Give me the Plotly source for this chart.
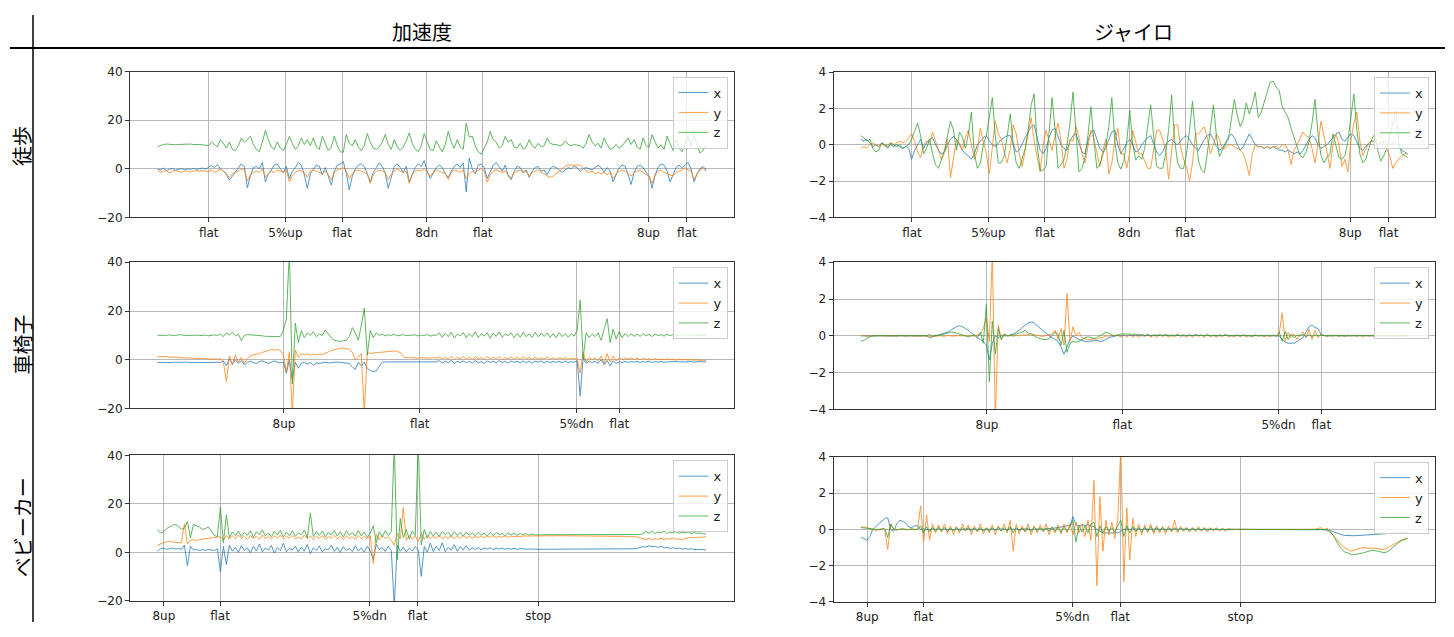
import plotly.graph_objects as go

W, H = 1454, 637
OFF = 8                              # browser body margin around the figure div
FW, FH = W - 2 * OFF, H - 2 * OFF    # page (figure + margins) fits the window exactly


def px(x):
    return (x - OFF) / FW


def py(y):
    return 1 - (y - OFF) / FH


# ---------------- data (sample index = position in list) ----------------
row1_tick_pos = [17.1, 42.7, 61.6, 89.8, 108.5, 163.8, 176.6]
row1_tick_lab = ["flat", "5%up", "flat", "8dn", "flat", "8up", "flat"]
row2_tick_pos = [42.2, 87.5, 139.8, 154.1]
row2_tick_lab = ["8up", "flat", "5%dn", "flat"]
row3_tick_pos = [2.15, 20.9, 70.8, 86.8, 127.0]
row3_tick_lab = ["8up", "flat", "5%dn", "flat", "stop"]

# 徒歩 / 加速度
acc_walk_x = [
    0.0, -0.5, 0.3, -0.8, -0.2, 0.2, -0.6, -0.3, 0.1, -0.4,
    0.0, -0.3, 0.2, -0.2, 0.0, 0.3, -0.1, 0.5, 1.5, 0.5,
    1.8, 0.0, -1.0, -2.0, -4.7, -3.0, -1.0, 0.5, 2.0, 1.0,
    -7.8, -3.0, 0.5, 1.0, 0.0, 2.6, -5.4, -2.0, -0.5, 1.5,
    2.0, 0.0, -1.5, 1.0, -4.0, -1.0, 0.5, 2.6, 1.5, -2.5,
    -8.1, -2.0, 0.0, 1.5, 1.0, -2.5, 0.5, -3.5, -6.7, -1.0,
    1.5, 2.0, 3.0, -2.0, -8.7, -3.0, 0.0, 1.5, 2.0, 1.0,
    -2.5, -5.4, -1.5, 0.5, 2.5, 1.0, -2.0, -8.1, -3.0, 1.0,
    2.0, 0.5, -1.5, 1.0, -5.4, -2.0, 0.5, 2.0, 1.0, 3.4,
    -1.0, -4.0, -1.5, 0.5, 1.5, 0.5, -2.0, -3.5, -1.0, 1.0,
    2.0, 0.5, 2.5, -9.5, 4.5, 0.0, -2.0, 1.5, 2.0, 0.5,
    -4.0, -1.5, 1.5, 2.6, 0.5, -1.0, 1.5, -3.0, -4.5, -1.0,
    1.0, 0.5, -1.5, -0.5, -3.5, -1.0, 0.5, 1.0, -1.0, -0.5,
    -2.5, 0.0, 1.0, 0.5, -0.5, -1.5, -0.5, 0.5, 0.0, 1.0,
    0.5, -1.0, 0.0, 0.5, 0.0, -0.5, 0.5, 1.5, 0.5, -1.5,
    0.5, -1.0, -5.4, -2.0, 0.5, 1.5, 1.0, -2.5, -6.5, -1.5,
    1.0, 1.5, 0.5, -1.5, -3.0, -8.0, -2.5, 0.5, 2.0, 1.5,
    -1.0, -5.4, -2.0, 0.5, 1.5, 0.5, 1.5, 2.6, 0.0, -5.4,
    -2.0, 0.0, 1.0, -0.5,
]
acc_walk_y = [
    -0.5, -1.5, -1.0, -0.8, -1.8, -1.0, -0.7, -1.2, -1.5, -1.0,
    -0.8, -1.3, -1.0, -0.7, -1.0, -0.8, -1.0, -1.2, -0.5, -1.5,
    -1.0, 0.0, -1.0, -2.5, -3.5, -2.0, -1.5, -1.0, 0.0, -0.5,
    -5.0, -2.5, -1.5, -1.0, -1.5, 0.0, -3.5, -2.0, -1.0, -1.5,
    -0.5, -1.0, -1.5, -0.5, -5.4, -2.5, -1.5, -0.5, -1.0, -1.5,
    -3.5, -1.0, -0.5, -1.0, -1.5, -2.0, -1.0, -2.5, -4.5, -1.5,
    -0.5, 0.0, 0.5, -1.0, -4.0, -2.0, -1.0, -0.5, -1.0, -1.5,
    -2.0, -6.0, -2.5, -1.0, -0.5, -1.0, -1.5, -4.5, -2.0, -1.0,
    0.0, -1.0, -1.5, -1.0, -6.0, -2.5, -1.0, -0.5, -1.0, 0.0,
    -1.5, -3.0, -1.5, -0.5, -1.0, -1.5, -2.0, -4.5, -1.5, -0.5,
    -1.0, -1.5, -0.5, -4.0, -2.0, -1.0, -1.5, -0.5, 0.0, -1.0,
    -5.5, -2.5, -1.0, -0.5, -1.0, -1.5, -1.0, -2.5, -4.0, -1.5,
    -1.0, -0.5, -1.5, -1.0, -3.0, -1.5, -1.0, -0.5, -1.5, -2.0,
    -3.0, -3.5, -3.0, -2.0, -1.0, 0.0, 1.0, 1.5, 1.5, 1.8,
    1.5, 1.5, 0.5, -1.0, -1.5, -1.0, -2.0, -1.5, -2.0, -1.5,
    -2.5, -1.5, -4.0, -2.0, -1.0, -0.5, -1.0, -2.0, -3.0, -1.5,
    -1.0, -0.5, -1.5, -2.5, -3.0, -6.0, -2.5, -1.0, -0.5, -1.5,
    -2.0, -2.5, -3.0, -1.5, -1.0, -0.5, 0.5, -0.5, -1.0, -4.5,
    -2.0, -0.5, 0.5, -1.0,
]
acc_walk_z = [
    9.1, 9.6, 10.0, 10.2, 10.0, 10.1, 9.9, 10.0, 10.1, 9.9,
    10.0, 10.2, 10.0, 10.1, 10.0, 9.9, 9.8, 9.5, 11.0, 10.0,
    9.0, 12.0, 10.5, 8.5, 11.1, 8.0, 7.5, 9.5, 12.7, 11.0,
    12.0, 13.4, 10.0, 8.0, 7.0, 11.0, 15.8, 12.0, 9.0, 8.0,
    11.1, 8.5, 7.5, 10.0, 13.3, 10.5, 8.0, 9.5, 12.7, 10.0,
    12.0, 9.5, 12.7, 9.0, 8.0, 13.4, 10.0, 7.5, 9.0, 13.4,
    9.5, 7.0, 6.8, 14.1, 10.5, 9.5, 12.0, 9.0, 7.5, 9.5,
    14.5, 11.0, 8.5, 8.0, 9.0, 11.0, 14.1, 10.0, 8.0, 12.0,
    9.0, 7.5, 9.0, 11.5, 14.8, 10.5, 8.0, 7.0, 9.5, 14.5,
    11.0, 8.0, 7.5, 11.5, 9.0, 7.0, 10.0, 15.4, 11.0, 8.5,
    12.0, 9.0, 8.0, 18.8, 13.0, 13.4, 9.5, 7.0, 6.0, 8.5,
    11.0, 15.4, 12.0, 11.0, 8.5, 9.5, 13.4, 11.0, 12.0, 9.0,
    8.5, 10.5, 8.0, 9.0, 12.0, 9.5, 8.5, 10.5, 9.0, 9.5,
    12.7, 10.5, 10.0, 10.0, 9.5, 9.8, 11.5, 10.0, 9.5, 10.0,
    9.9, 9.5, 8.5, 10.5, 14.1, 11.0, 9.5, 10.5, 8.5, 12.7,
    10.0, 8.0, 8.5, 10.0, 8.5, 9.5, 11.0, 12.7, 10.0, 12.0,
    9.0, 8.0, 12.7, 9.5, 9.0, 14.1, 11.0, 8.5, 9.9, 8.0,
    13.4, 10.0, 7.5, 12.0, 8.5, 7.0, 10.0, 13.4, 9.5, 14.1,
    9.5, 6.5, 7.5, 10.0,
]

# 徒歩 / ジャイロ
gyro_walk_x = [
    0.3, 0.2, 0.3, 0.1, -0.1, 0.0, -0.1, 0.1, 0.0, -0.1,
    0.0, -0.1, 0.0, -0.1, -0.2, -0.1, -0.2, -0.8, -0.3, 0.0,
    0.3, -0.2, 0.1, 0.3, 0.4, 0.0, -0.3, -0.5, -0.4, 0.0,
    0.3, 0.45, 0.3, 0.0, -0.3, -0.5, -0.6, -0.8, -0.5, 0.0,
    0.2, 0.4, 0.5, 0.2, 0.0, -0.1, 0.1, 0.3, 0.4, 0.5,
    0.5, 0.0, -0.4, -0.3, 0.1, 0.4, 0.7, 1.0, 1.1, 0.3,
    -0.3, -0.5, -0.2, 0.4, 0.8, 0.9, 0.5, 0.0, -0.2, -0.3,
    0.2, 0.5, 0.6, 0.1, -0.4, -0.5, 0.2, 0.7, 0.8, 0.3,
    -0.2, -0.4, -0.2, 0.3, 0.7, 0.8, 0.0, -0.5, -0.2, 0.1,
    0.3, 0.0, -0.4, -0.3, 0.0, 0.2, 0.4, 0.5, 0.0, -0.4,
    -0.6, -0.4, 0.0, 0.2, 0.3, 0.1, 0.0, 0.2, 0.4, 0.5,
    0.3, 0.0, -0.2, -0.3, 0.0, 0.3, 0.5, 0.6, 0.3, -0.1,
    -0.3, -0.2, 0.1, 0.4, 0.6, 0.4, 0.0, -0.3, -0.1, 0.3,
    0.6, 0.3, 0.0, -0.1, -0.1, -0.2, -0.1, -0.2, -0.1, -0.2,
    -0.3, -0.3, -0.4, -0.3, -0.4, -0.5, -0.4, -0.5, -0.3, 0.0,
    0.3, 0.5, 0.4, 0.0, -0.2, -0.1, 0.0, 0.2, 0.4, 0.6,
    0.7, 0.3, 0.2, 0.4, 0.6, 0.5, 0.1, -0.2, -0.3, -0.1,
    0.1, 0.2, 0.2, 0.0, 0.1, 0.2, 0.1, 0.0, 0.1, 0.2,
    0.0, -0.3, -0.4, -0.5,
]
gyro_walk_y = [
    -0.2, -0.1, -0.2, 0.0, 0.1, 0.0, -0.1, 0.1, -0.1, 0.0,
    0.1, 0.0, 0.1, 0.2, 0.1, 0.2, 0.4, 0.6, 0.2, -0.4,
    -0.7, 0.0, 0.2, 0.1, 0.7, 0.2, -0.3, -0.8, -0.4, 0.3,
    -1.8, -0.6, 0.3, 0.1, -0.3, 0.4, 0.8, 0.0, -0.8, -0.3,
    0.9, 0.2, -0.5, -1.6, -0.2, 1.3, 0.6, 0.3, -0.4, -1.0,
    -0.2, 1.1, 0.6, -0.5, -1.2, -0.3, 0.6, 1.5, 0.2, -0.7,
    -1.5, 0.0, 0.8, 0.2, -0.3, 0.5, 1.2, 0.2, -1.3, -0.8,
    0.3, 0.2, 1.0, 0.4, -0.5, -1.0, -0.2, 0.8, 0.3, -0.5,
    -1.2, -0.3, 0.3, -1.6, -1.0, 0.2, 0.9, -0.5, -0.5, -1.3,
    -0.4, 0.8, 0.2, -0.5, -0.5, -0.9, -1.3, -1.3, -0.2, 0.8,
    0.8, 0.3, -0.2, -1.9, -0.5, 1.1, 1.1, -0.1, -0.8, -1.2,
    -2.0, -1.0, 0.6, 0.6, 0.8, 1.0, 0.3, -0.5, 0.0, 0.6,
    0.3, -0.2, -0.2, 0.0, 0.0, -0.1, -0.2, -0.3, -0.5, -1.0,
    -1.7, -0.5, 0.0, -0.1, -0.1, -0.2, -0.1, -0.2, -0.1, -0.1,
    -0.2, 0.0, 0.0, -0.3, -1.1, -0.3, 0.0, 0.4, 0.7, 0.5,
    0.4, -0.2, -1.0, 0.0, 1.3, 0.5, -0.3, -1.3, 0.0, 0.6,
    0.0, -1.2, -0.8, -1.5, 0.2, 1.2, 1.8, 0.2, -0.6, -0.2,
    0.1, 0.2, 0.2, 0.3, 0.5, 0.1, -0.2, -0.6, -1.3, -1.0,
    -0.8, -0.6, -0.5, -0.5,
]
gyro_walk_z = [
    0.5, 0.4, 0.2, 0.3, -0.2, -0.4, -0.3, 0.1, 0.0, -0.2,
    0.1, 0.0, -0.1, 0.0, -0.2, -0.1, 0.0, 0.3, 0.8, 1.2,
    0.5, -0.5, -0.2, 0.3, -0.5, -1.1, -1.3, -0.8, -0.3, 0.5,
    1.3, 0.8, -0.3, 0.7, 0.4, -0.2, 0.6, 1.8, -0.5, -1.3,
    -1.0, 0.0, 0.5, 1.5, 2.6, 0.5, -1.0, -1.0, -0.6, 0.5,
    1.7, 0.0, -1.0, -1.3, -0.8, -0.2, 0.8, 2.2, 2.8, 0.0,
    -1.4, -1.4, -1.2, 0.5, 2.6, 0.8, -1.3, -1.1, -0.8, 0.0,
    1.2, 2.9, 0.5, -1.5, -1.3, -0.7, 0.5, 2.1, 0.2, -1.3,
    -1.1, -0.6, 0.0, 1.0, 2.6, 0.2, -1.0, -1.35, -0.9, 0.2,
    1.9, 0.0, -0.85, -0.6, -0.8, -0.2, 1.0, 2.2, 0.5, -1.2,
    -1.3, -1.3, -0.5, 0.8, 2.75, 0.3, -1.0, -1.3, -1.3, -0.5,
    0.8, 2.4, 0.6, -0.9, -1.4, -1.55, -0.4, 1.0, 2.2, 0.5,
    -0.65, -0.3, 0.0, 0.3, 1.4, 2.5, 1.6, 1.0, 1.4, 2.3,
    1.7, 2.2, 2.9, 1.5, 1.8, 2.4, 3.0, 3.45, 3.5, 3.2,
    3.0, 2.1, 1.8, 1.5, 0.9, 0.4, 0.0, -0.6, -0.7, -0.4,
    0.2, 1.2, 2.5, 0.6, -0.6, -1.0, -0.7, -0.5, 0.6, 0.0,
    -0.7, -0.8, -0.6, 0.2, 1.5, 2.8, 0.8, -0.5, -1.0, -0.8,
    -0.2, 0.3, 0.6, -0.3, -0.9, -0.6, -0.2, 0.4, 1.2, 1.9,
    0.2, -0.5, -0.6, -0.7,
]

# 車椅子 / 加速度
acc_wc_x = [
    -1.1, -1.0, -1.1, -1.2, -1.0, -1.1, -1.0, -1.2, -1.1, -1.0,
    -1.1, -1.1, -1.0, -1.2, -1.1, -1.0, -1.1, -1.2, -1.0, -1.1,
    -1.0, -1.1, -0.5, -2.5, 0.5, -2.0, 0.0, -1.5, -0.3, -2.0,
    -1.0, -0.6, -1.2, -1.5, -0.8, -0.5, -1.0, -1.5, -1.0, -0.5,
    -1.0, -1.3, -1.0, -5.6, 0.0, -8.3, -1.0, -3.5, -1.5, -1.0,
    -1.8, -1.2, -2.2, -1.3, -1.5, -1.2, -1.0, -1.3, -1.1, -1.2,
    -1.0, -1.1, -1.3, -1.2, -1.5, -3.0, -4.0, -1.0, -2.5, -1.0,
    -3.5, -4.5, -4.8, -4.6, -3.0, -1.0, -0.9, -0.9, -1.0, -0.9,
    -0.8, -0.9, -0.8, -0.9, -0.8, -1.0, -0.8, -0.9, -0.8, -1.0,
    -0.9, -0.8, -1.0, -0.9, -0.4, -1.4, -0.6, -1.2, -0.3, -1.5,
    -0.7, -1.1, -0.5, -1.3, -0.6, -1.4, -0.4, -1.2, -0.8, -1.5,
    -0.5, -1.1, -0.6, -1.3, -0.4, -1.2, -0.7, -1.4, -0.5, -1.1,
    -0.6, -1.3, -0.5, -1.2, -0.7, -1.4, -0.6, -1.0, -0.5, -1.3,
    -0.6, -1.2, -0.7, -1.1, -0.6, -1.3, -0.5, -1.2, -0.8, -1.0,
    -0.5, -15.0, 1.0, -1.5, -0.5, -1.2, -0.6, -1.5, 0.0, -2.0,
    -0.3, -2.5, -0.5, -1.5, -0.8, -1.2, -0.7, -1.1, -0.8, -1.0,
    -0.7, -1.1, -0.8, -1.0, -0.6, -1.2, -0.8, -1.0, -0.7, -1.1,
    -0.9, -0.8, -1.0, -0.7, -0.9, -1.0, -0.8, -0.9, -0.7, -1.0,
    -0.8, -0.9, -0.8, -0.9,
]
acc_wc_y = [
    1.3, 1.4, 1.2, 1.3, 1.1, 1.2, 1.0, 0.9, 1.0, 0.8,
    0.7, 0.8, 0.6, 0.5, 0.6, 0.4, 0.5, 0.3, 0.4, 0.3,
    0.2, 0.5, -1.0, -9.0, 1.5, -2.0, 2.0, -1.0, 1.0, -1.5,
    0.5, 1.5, 2.0, 2.2, 2.5, 3.0, 3.5, 4.0, 4.2, 4.0,
    4.1, 3.8, 2.0, -5.0, 3.0, -22.0, 4.0, 1.0, 2.5, 2.0,
    2.4, 1.8, 2.2, 2.0, 2.3, 2.1, 2.5, 3.2, 3.8, 4.2,
    4.5, 4.7, 4.8, 4.6, 4.3, 3.0, 0.0, 1.0, 2.5, -22.0,
    3.0, 2.5, 2.8, 3.0, 3.0, 3.1, 3.3, 3.5, 3.4, 3.6,
    3.3, 3.0, 1.2, 0.8, 0.9, 0.7, 0.8, 0.6, 0.9, 0.7,
    0.8, 0.6, 0.9, 0.7, 1.2, 0.1, 1.0, 0.3, 1.4, 0.0,
    0.9, 0.4, 1.3, 0.2, 1.1, -0.1, 1.2, 0.3, 0.9, 0.1,
    1.3, 0.2, 1.0, 0.4, 1.2, 0.0, 0.8, 0.3, 1.1, 0.1,
    1.0, 0.2, 1.2, 0.3, 0.9, 0.0, 1.1, 0.2, 0.8, 0.3,
    1.0, 0.1, 0.9, 0.2, 0.8, 0.3, 0.9, 0.1, 0.7, 0.4,
    0.5, -5.5, 3.0, -1.0, 1.0, 0.0, 0.8, -0.5, 1.5, -1.5,
    2.5, -1.0, 1.5, -0.5, 1.0, 0.0, 0.8, 0.2, 0.7, 0.1,
    0.6, 0.0, 0.5, 0.1, 0.4, -0.1, 0.5, 0.0, 0.3, -0.1,
    0.4, 0.0, 0.2, -0.2, 0.3, -0.1, 0.2, -0.2, 0.1, -0.2,
    0.0, -0.3, -0.2, -0.3,
]
acc_wc_z = [
    10.0, 9.9, 10.1, 10.0, 10.2, 9.9, 10.0, 10.1, 10.3, 9.9,
    10.0, 10.2, 10.0, 10.1, 9.9, 10.0, 10.1, 9.8, 10.0, 10.2,
    10.0, 10.5, 9.5, 11.0, 10.2, 11.3, 9.8, 10.5, 7.8, 10.0,
    10.3, 10.2, 10.4, 10.2, 10.0, 9.8, 9.6, 9.5, 9.6, 9.4,
    9.5, 9.5, 12.0, 16.7, 45.0, -10.0, 15.0, 7.0, 12.0, 9.0,
    11.0, 10.0, 11.5, 9.5, 10.5, 10.0, 12.3, 10.5, 9.0, 8.0,
    7.8, 7.5, 7.8, 8.0, 9.5, 13.2, 11.0, 8.0, 14.0, 21.2,
    2.0, 12.0, 9.0, 11.0, 10.0, 10.5, 9.8, 10.2, 10.0, 10.5,
    9.8, 10.0, 10.3, 9.9, 10.1, 10.0, 10.2, 9.8, 10.1, 10.0,
    10.3, 9.7, 10.1, 10.0, 11.0, 9.2, 10.8, 9.5, 11.3, 8.9,
    10.5, 9.8, 11.2, 9.0, 10.7, 9.4, 11.5, 9.1, 10.6, 9.7,
    11.1, 8.8, 10.9, 9.6, 11.4, 9.2, 10.5, 9.9, 11.0, 9.0,
    10.8, 9.3, 11.2, 9.5, 10.6, 9.1, 11.3, 9.4, 10.9, 9.6,
    11.0, 9.2, 10.7, 9.0, 11.1, 9.5, 10.8, 9.3, 10.6, 9.7,
    12.0, 24.5, 0.5, 11.0, 9.0, 10.5, 9.5, 11.0, 8.0, 12.5,
    16.9, 7.0, 12.5, 8.5, 11.5, 9.0, 10.8, 9.5, 10.6, 9.6,
    10.5, 9.6, 10.7, 9.8, 10.4, 9.5, 10.6, 9.9, 10.3, 9.7,
    10.5, 9.8, 10.4, 9.6, 10.2, 9.9, 10.5, 9.7, 10.3, 9.8,
    10.2, 10.0, 10.1, 10.0,
]

# 車椅子 / ジャイロ
gyro_wc_x = [
    0.0, 0.0, 0.01, 0.0, -0.01, 0.0, 0.0, 0.01, 0.0, 0.0,
    -0.01, 0.0, 0.0, 0.01, 0.0, 0.0, 0.0, -0.01, 0.0, 0.0,
    0.0, 0.01, 0.0, -0.1, -0.05, 0.0, 0.05, 0.1, 0.15, 0.2,
    0.3, 0.4, 0.5, 0.55, 0.5, 0.4, 0.3, 0.15, 0.05, -0.1,
    -0.2, -0.3, -0.5, -1.3, -0.4, 0.0, -0.1, 0.0, 0.0, 0.0,
    0.05, 0.1, 0.2, 0.3, 0.45, 0.6, 0.7, 0.75, 0.7, 0.55,
    0.4, 0.25, 0.1, 0.0, -0.1, -0.2, -0.3, -0.6, -1.0, -0.6,
    -0.2, 0.0, -0.1, -0.2, -0.25, -0.3, -0.3, -0.28, -0.3, -0.25,
    -0.3, -0.28, -0.2, -0.1, -0.05, 0.0, 0.02, 0.0, 0.03, 0.01,
    0.02, 0.04, 0.01, 0.03, 0.0, 0.02, 0.03, 0.01, 0.02, 0.0,
    0.03, 0.01, 0.02, 0.04, 0.0, 0.02, 0.01, 0.03, 0.0, 0.02,
    0.01, 0.03, 0.02, 0.0, 0.02, 0.01, 0.03, 0.0, 0.02, 0.01,
    0.0, 0.02, 0.01, 0.03, 0.0, 0.01, 0.02, 0.0, 0.01, 0.0,
    0.02, 0.0, 0.01, 0.0, 0.02, 0.01, 0.0, 0.01, 0.0, 0.0,
    0.0, -0.2, -0.35, -0.4, -0.38, -0.4, -0.3, -0.2, -0.1, 0.2,
    0.5, 0.6, 0.45, 0.4, 0.1, 0.0, 0.01, 0.0, 0.02, 0.0,
    0.01, 0.0, 0.02, 0.01, 0.0, 0.01, 0.0, 0.02, 0.0, 0.01,
    0.0, 0.01, 0.0, 0.02, 0.0, 0.01, 0.0, 0.0, 0.01, 0.0,
    0.0, 0.01, 0.0, 0.0,
]
gyro_wc_y = [
    0.0, 0.02, -0.02, 0.01, 0.0, -0.01, 0.02, 0.0, -0.02, 0.01,
    0.0, 0.02, -0.01, 0.0, 0.01, -0.02, 0.0, 0.02, -0.01, 0.0,
    0.01, 0.0, -0.02, -0.06, 0.03, -0.04, 0.02, 0.0, -0.03, 0.02,
    0.0, -0.02, 0.01, 0.0, 0.02, -0.01, 0.0, 0.01, -0.02, 0.05,
    0.1, 0.4, 1.0, -0.3, 4.5, -4.5, 0.6, -0.2, 0.1, 0.0,
    0.03, -0.02, 0.02, 0.0, 0.05, 0.04, 0.06, 0.1, 0.05, 0.02,
    0.0, -0.03, 0.02, 0.05, 0.1, 0.3, -0.2, 0.4, -0.5, 2.3,
    -0.3, 0.5, 0.0, 0.2, -0.1, -0.15, -0.2, -0.2, -0.15, -0.2,
    -0.1, -0.1, 0.0, -0.02, 0.03, 0.0, 0.05, -0.08, 0.06, -0.05,
    0.08, -0.06, 0.04, -0.1, 0.07, -0.04, 0.1, -0.07, 0.05, -0.09,
    0.06, -0.05, 0.09, -0.08, 0.04, -0.06, 0.1, -0.05, 0.07, -0.1,
    0.05, -0.07, 0.08, -0.04, 0.06, -0.09, 0.1, -0.06, 0.05, -0.08,
    0.07, -0.05, 0.09, -0.06, 0.04, -0.08, 0.06, -0.05, 0.08, -0.07,
    0.05, -0.06, 0.07, -0.04, 0.06, -0.05, 0.04, -0.06, 0.05, -0.03,
    0.1, 1.25, -0.3, 0.2, -0.1, 0.1, -0.2, 0.1, 0.2, -0.1,
    0.35, -0.2, 0.3, -0.1, 0.1, 0.03, -0.04, 0.05, -0.03, 0.04,
    -0.05, 0.03, -0.04, 0.05, -0.02, 0.04, -0.03, 0.02, -0.04, 0.03,
    -0.02, 0.03, -0.03, 0.02, -0.02, 0.03, -0.01, 0.02, -0.02, 0.01,
    -0.01, 0.02, -0.01, 0.0,
]
gyro_wc_z = [
    -0.3, -0.25, -0.15, -0.05, 0.0, 0.01, -0.01, 0.0, 0.02, 0.0,
    -0.01, 0.01, 0.0, 0.02, -0.01, 0.0, 0.01, 0.0, -0.02, 0.01,
    0.0, 0.02, 0.0, 0.08, -0.05, 0.05, 0.0, 0.05, 0.1, 0.15,
    0.2, 0.2, 0.15, 0.1, 0.05, 0.0, -0.05, 0.0, 0.05, -0.1,
    0.2, -0.4, 1.7, -2.5, 0.8, -1.0, 0.4, -0.2, 0.1, 0.0,
    0.0, 0.05, 0.1, 0.15, 0.2, 0.3, 0.15, 0.1, 0.0, -0.1,
    -0.15, -0.2, -0.2, -0.15, 0.0, 0.2, 0.1, -0.5, 0.3, -0.9,
    -0.4, -0.3, -0.35, -0.3, -0.2, -0.1, -0.05, -0.1, -0.15, -0.1,
    0.0, 0.1, 0.2, 0.15, 0.05, 0.0, 0.05, 0.1, 0.1, 0.12,
    0.1, 0.08, 0.1, 0.05, 0.07, 0.02, 0.06, 0.0, 0.05, 0.03,
    0.06, 0.01, 0.04, 0.0, 0.05, 0.02, 0.06, 0.0, 0.04, 0.01,
    0.05, 0.0, 0.06, 0.02, 0.04, 0.0, 0.05, 0.01, 0.03, 0.0,
    0.04, 0.01, 0.05, 0.0, 0.03, 0.02, 0.04, 0.0, 0.03, 0.01,
    0.02, 0.0, 0.03, 0.01, 0.02, 0.0, 0.03, 0.01, 0.02, 0.0,
    0.2, -0.3, 0.25, -0.2, 0.1, -0.1, 0.05, 0.0, 0.08, -0.05,
    0.06, -0.04, 0.05, 0.0, 0.03, 0.01, 0.02, 0.0, 0.02, 0.01,
    0.0, 0.02, 0.01, 0.0, 0.02, 0.0, 0.01, 0.02, 0.0, 0.01,
    0.02, 0.0, 0.01, 0.0, 0.02, 0.01, 0.0, 0.01, 0.02, 0.0,
    0.01, 0.0, 0.01, 0.0,
]

# ベビーカー / 加速度
acc_bc_x = [
    0.5, 1.5, 1.8, 1.3, 1.5, 1.8, 1.4, 1.6, 1.2, 3.0,
    -5.5, 2.5, 1.0, 1.2, 0.8, 1.1, 0.9, 1.2, 1.0, 0.8,
    1.5, -7.9, 2.5, -5.0, 3.0, 0.5, 2.2, 0.0, 2.8, 0.8,
    1.9, -0.2, 2.5, 0.6, 3.5, 0.2, 1.8, 0.9, 2.9, -0.3,
    2.0, 0.7, 3.8, 0.3, 1.6, 1.0, 2.6, 0.1, 2.2, 0.5,
    3.2, -0.5, 1.9, 0.8, 2.7, 0.2, 1.5, 1.1, 3.0, 0.4,
    2.1, 0.0, 2.4, 0.9, 1.7, 0.3, 2.8, 0.6, 1.9, 0.1,
    2.5, 0.7, -3.0, 3.5, 1.2, 2.0, 0.4, 2.6, 0.8, -22.0,
    3.0, 0.5, 2.2, 0.2, 1.8, 0.6, 2.4, 1.0, -9.9, 2.5,
    0.0, 3.8, 0.4, 2.6, 0.8, 4.0, 0.3, 2.1, 0.9, 3.2,
    0.5, 2.4, 1.0, 2.8, 0.9, 1.9, 1.2, 2.0, 1.1, 1.8,
    1.3, 1.9, 1.2, 1.7, 1.4, 1.8, 1.3, 1.6, 1.4, 1.7,
    1.3, 1.6, 1.4, 1.5, 1.3, 1.4, 1.3, 1.3, 1.3, 1.3,
    1.3, 1.3, 1.3, 1.3, 1.3, 1.3, 1.3, 1.3, 1.3, 1.3,
    1.3, 1.3, 1.3, 1.3, 1.3, 1.3, 1.3, 1.3, 1.3, 1.3,
    1.3, 1.3, 1.3, 1.4, 1.3, 1.4, 1.5, 1.4, 1.6, 1.5,
    1.7, 2.0, 2.4, 2.2, 2.8, 2.3, 2.6, 2.0, 2.5, 1.8,
    2.2, 1.6, 2.0, 1.5, 1.8, 1.4, 1.6, 1.3, 1.5, 1.2,
    1.3, 1.1, 1.2, 1.0,
]
acc_bc_y = [
    3.0, 3.5, 4.0, 4.4, 4.5, 4.3, 4.2, 4.0, 4.1, 11.8,
    3.5, 5.0, 5.2, 5.0, 5.3, 5.5, 5.4, 5.6, 5.8, 6.0,
    6.2, 6.5, 5.0, 7.0, 5.5, 6.8, 5.6, 7.2, 5.8, 6.6,
    5.4, 7.0, 5.9, 6.5, 5.3, 7.3, 5.7, 6.4, 5.5, 6.9,
    5.8, 7.1, 5.4, 6.6, 5.9, 7.0, 5.6, 6.3, 5.5, 7.2,
    5.7, 6.8, 5.3, 6.7, 5.8, 7.0, 5.5, 6.5, 5.9, 7.1,
    5.6, 6.6, 5.4, 6.9, 5.8, 6.4, 5.5, 7.0, 5.7, 6.5,
    5.6, 6.8, -4.6, 7.5, 5.2, 6.9, 5.8, 6.4, 5.0, 3.0,
    8.0, 5.5, 18.5, 5.0, 7.0, 5.6, 6.8, 4.5, 8.0, 5.5,
    6.9, 5.7, 6.6, 5.8, 7.0, 5.6, 6.5, 5.9, 6.8, 5.7,
    6.6, 5.8, 6.9, 6.0, 6.7, 5.9, 6.6, 6.1, 6.8, 6.0,
    6.7, 6.2, 6.9, 6.1, 6.6, 6.3, 6.8, 6.2, 6.7, 6.4,
    6.6, 6.5, 6.8, 6.6, 6.7, 6.8, 6.7, 6.8, 6.8, 6.9,
    6.8, 6.9, 6.8, 6.9, 6.9, 6.8, 6.9, 6.8, 6.9, 6.9,
    6.8, 6.9, 6.9, 6.8, 6.9, 6.8, 6.9, 6.9, 6.8, 6.9,
    6.9, 6.8, 6.8, 6.7, 6.8, 6.7, 6.6, 6.5, 6.6, 6.5,
    6.4, 6.0, 5.6, 5.3, 5.8, 5.2, 5.6, 5.4, 5.8, 5.3,
    5.7, 5.5, 5.9, 5.4, 5.6, 5.2, 5.8, 6.0, 6.2, 6.0,
    6.3, 6.2, 6.4, 6.5,
]
acc_bc_z = [
    9.5, 8.0, 8.5, 9.8, 10.5, 11.2, 11.5, 10.8, 9.5, 10.0,
    12.8, 6.0, 11.5, 10.9, 10.5, 9.5, 9.8, 10.5, 8.5, 7.0,
    6.5, 18.6, 4.0, 15.5, 6.0, 8.5, 7.0, 8.8, 6.5, 8.2,
    7.0, 9.0, 6.2, 8.5, 7.2, 9.3, 6.8, 8.0, 6.4, 8.7,
    7.1, 9.1, 6.3, 8.4, 6.9, 8.9, 6.6, 8.1, 7.3, 9.2,
    6.0, 16.2, 6.5, 8.6, 7.0, 8.8, 6.4, 8.3, 7.2, 9.0,
    6.7, 8.5, 6.3, 8.9, 7.1, 8.2, 6.6, 9.1, 6.8, 8.4,
    6.2, 8.0, 11.0, 4.0, 8.5, 6.5, 9.0, 7.0, 8.5, 45.0,
    -3.0, 14.0, 6.0, 9.5, 5.5, 8.8, 7.0, 45.0, 3.0, 9.5,
    6.0, 8.6, 6.8, 8.4, 6.5, 8.7, 7.2, 8.3, 6.6, 8.5,
    7.0, 8.2, 6.7, 8.4, 7.1, 8.0, 6.9, 8.3, 7.2, 7.9,
    6.8, 8.1, 7.0, 8.2, 7.3, 7.8, 6.9, 8.0, 7.2, 7.9,
    7.0, 7.8, 7.3, 7.7, 7.1, 7.6, 7.2, 7.4, 7.3, 7.3,
    7.3, 7.2, 7.3, 7.4, 7.3, 7.3, 7.2, 7.3, 7.4, 7.3,
    7.3, 7.2, 7.3, 7.3, 7.4, 7.3, 7.2, 7.3, 7.3, 7.4,
    7.3, 7.3, 7.2, 7.3, 7.4, 7.3, 7.3, 7.2, 7.4, 7.3,
    7.5, 7.4, 7.8, 8.6, 7.9, 8.9, 7.7, 8.5, 8.0, 8.8,
    7.8, 8.4, 8.1, 8.6, 7.9, 8.3, 8.0, 8.5, 7.8, 8.2,
    7.9, 8.0, 7.7, 7.6,
]

# ベビーカー / ジャイロ
gyro_bc_x = [
    -0.45, -0.5, -0.6, -0.4, 0.0, 0.15, 0.3, 0.5, 0.6, 0.65,
    0.0, -0.1, 0.3, 0.5, 0.45, 0.35, 0.15, 0.1, 0.2, 0.2,
    0.0, 0.02, 0.0, -0.03, 0.02, 0.0, 0.03, -0.02, 0.01, 0.0,
    0.02, -0.01, 0.03, 0.0, -0.02, 0.02, 0.01, -0.01, 0.02, 0.0,
    0.01, -0.02, 0.02, 0.0, 0.03, -0.01, 0.01, 0.02, -0.02, 0.0,
    0.03, 0.0, 0.02, -0.01, 0.01, 0.03, 0.0, -0.02, 0.02, 0.01,
    0.0, 0.03, 0.02, 0.05, 0.04, 0.08, 0.1, 0.12, 0.15, 0.2,
    0.22, 0.7, 0.25, 0.2, 0.25, 0.22, 0.25, 0.2, 0.15, 0.0,
    -0.1, -0.2, -0.2, -0.22, -0.2, -0.18, -0.2, -0.1, 0.0, 0.02,
    0.0, 0.03, 0.01, 0.02, 0.0, 0.03, 0.01, 0.0, 0.02, 0.01,
    0.0, 0.02, 0.01, 0.0, 0.02, 0.0, 0.01, 0.02, 0.0, 0.01,
    0.0, 0.01, 0.0, 0.02, 0.0, 0.01, 0.0, 0.0, 0.01, 0.0,
    0.0, 0.01, 0.0, 0.0, 0.01, 0.0, 0.0, 0.0, 0.0, 0.0,
    0.0, 0.0, 0.0, 0.0, 0.0, 0.0, 0.0, 0.0, 0.0, 0.0,
    0.0, 0.0, 0.0, 0.0, 0.0, 0.0, 0.0, 0.0, 0.0, 0.0,
    0.0, 0.0, 0.0, 0.0, 0.0, 0.0, -0.02, -0.06, -0.12, -0.2,
    -0.26, -0.3, -0.33, -0.35, -0.36, -0.35, -0.34, -0.33, -0.32, -0.33,
    -0.31, -0.3, -0.31, -0.29, -0.28, -0.28, -0.26, -0.24, -0.22, -0.2,
    -0.19, -0.17, -0.16, -0.15,
]
gyro_bc_y = [
    0.1, 0.15, 0.1, 0.05, 0.0, -0.05, 0.0, 0.05, 0.0, -1.1,
    0.3, 0.0, -0.05, 0.0, 0.05, -0.03, 0.0, 0.02, -0.02, 0.0,
    1.3, -0.7, 0.8, -0.6, 0.3, -0.2, 0.25, -0.15, 0.3, -0.25,
    0.2, -0.3, 0.15, -0.2, 0.3, -0.1, 0.25, -0.3, 0.2, -0.15,
    0.3, -0.25, 0.1, -0.2, 0.25, -0.3, 0.2, -0.1, 0.3, -0.2,
    0.5, -1.2, 0.3, -0.25, 0.2, -0.15, 0.3, -0.3, 0.2, -0.2,
    0.25, -0.1, 0.3, -0.3, 0.15, -0.2, 0.25, -0.25, 0.3, -0.2,
    0.3, -0.3, 0.4, -0.2, 0.3, -0.4, 0.5, -0.6, 2.7, -3.1,
    1.8, -1.2, 0.5, -0.3, 0.4, -0.5, 0.6, 4.5, -2.9, 1.2,
    -1.7, 0.6, -0.4, 0.3, -0.3, 0.25, -0.2, 0.3, -0.25, 0.2,
    -0.2, 0.15, -0.25, 0.2, -0.15, 0.5, -0.2, 0.15, -0.1, 0.12,
    -0.15, 0.1, -0.12, 0.15, -0.1, 0.12, -0.15, 0.1, -0.08, 0.1,
    -0.1, 0.08, -0.1, 0.05, 0.0, 0.02, 0.0, 0.01, 0.0, 0.0,
    0.0, 0.0, 0.0, 0.0, 0.0, 0.0, 0.0, 0.0, 0.0, 0.0,
    0.0, 0.0, 0.0, 0.0, 0.0, 0.0, 0.0, 0.0, 0.0, 0.0,
    0.0, 0.0, 0.0, 0.05, 0.1, -0.05, 0.08, -0.1, -0.3, -0.5,
    -0.7, -0.9, -1.0, -1.1, -1.2, -1.15, -1.1, -1.05, -1.0, -1.02,
    -1.05, -1.05, -1.03, -1.08, -1.1, -1.1, -1.05, -0.95, -0.85, -0.75,
    -0.65, -0.58, -0.52, -0.48,
]
gyro_bc_z = [
    0.1, 0.08, 0.05, 0.0, 0.02, 0.0, -0.02, 0.0, 0.05, -0.45,
    0.3, 0.0, -0.02, 0.0, 0.02, 0.0, -0.01, 0.02, 0.0, 0.0,
    0.2, -0.2, 0.15, -0.15, 0.1, -0.1, 0.12, -0.08, 0.1, -0.12,
    0.08, -0.1, 0.12, -0.1, 0.1, -0.08, 0.1, -0.12, 0.08, -0.1,
    0.1, -0.1, 0.08, -0.12, 0.1, -0.08, 0.12, -0.1, 0.1, -0.1,
    0.15, -0.2, 0.1, -0.1, 0.08, -0.12, 0.1, -0.1, 0.12, -0.08,
    0.1, -0.12, 0.08, -0.1, 0.12, -0.1, 0.1, -0.15, 0.12, -0.1,
    0.15, 0.5, -0.7, 0.2, -0.15, 0.2, -0.2, 0.3, 0.4, -0.4,
    0.2, -0.2, 0.15, -0.1, 0.1, -0.15, 0.2, 0.5, -0.4, 0.2,
    -0.2, 0.15, -0.12, 0.1, -0.15, 0.12, -0.1, 0.15, -0.12, 0.1,
    -0.1, 0.12, -0.1, 0.08, -0.1, 0.1, -0.08, 0.1, -0.08, 0.06,
    -0.08, 0.06, -0.05, 0.06, -0.05, 0.04, -0.05, 0.04, -0.03, 0.04,
    -0.03, 0.02, -0.02, 0.01, 0.0, 0.0, 0.0, 0.0, 0.0, 0.0,
    0.0, 0.0, 0.0, 0.0, 0.0, 0.0, 0.0, 0.0, 0.0, 0.0,
    0.0, 0.0, 0.0, 0.0, 0.0, 0.0, 0.0, 0.0, 0.0, 0.0,
    0.0, 0.0, 0.0, 0.0, 0.0, 0.0, -0.05, -0.15, -0.3, -0.6,
    -0.9, -1.1, -1.25, -1.3, -1.38, -1.4, -1.38, -1.35, -1.3, -1.25,
    -1.2, -1.15, -1.17, -1.2, -1.25, -1.28, -1.25, -1.15, -1.0, -0.85,
    -0.72, -0.62, -0.55, -0.5,
]

series_names = ["x", "y", "z"]
acc_ticks = [-20, 0, 20, 40]
acc_ticktext = ["\u221220", "0", "20", "40"]
gyro_ticks = [-4, -2, 0, 2, 4]
gyro_ticktext = ["\u22124", "\u22122", "0", "2", "4"]

# ---------------- layout / styling ----------------
COLORS = ["#1f77b4", "#ff7f0e", "#2ca02c"]
N = 184
XR = [-0.05 * (N - 1), 1.05 * (N - 1)]

panels = [
    # data, ticks, box (x0,x1,y0,y1 in window px), kind
    ((acc_walk_x, acc_walk_y, acc_walk_z), (row1_tick_pos, row1_tick_lab), (130, 733.5, 66, 215), "acc"),
    ((gyro_walk_x, gyro_walk_y, gyro_walk_z), (row1_tick_pos, row1_tick_lab), (833.5, 1435, 66.5, 215), "gyro"),
    ((acc_wc_x, acc_wc_y, acc_wc_z), (row2_tick_pos, row2_tick_lab), (130, 733.5, 261, 410.5), "acc"),
    ((gyro_wc_x, gyro_wc_y, gyro_wc_z), (row2_tick_pos, row2_tick_lab), (833.5, 1435, 261, 411.5), "gyro"),
    ((acc_bc_x, acc_bc_y, acc_bc_z), (row3_tick_pos, row3_tick_lab), (130, 733.5, 458.5, 607.5), "acc"),
    ((gyro_bc_x, gyro_bc_y, gyro_bc_z), (row3_tick_pos, row3_tick_lab), (833.5, 1435, 460, 608.5), "gyro"),
]

fig = go.Figure()
layout = dict(
    width=FW, height=FH, margin=dict(l=0, r=0, t=0, b=0),
    paper_bgcolor="white", plot_bgcolor="white",
    font=dict(family="DejaVu Sans", size=12, color="#222"),
    showlegend=True,
)
TICKFONT = dict(family="DejaVu Sans", size=12, color="#222")

for k, (data, (tpos, tlab), (x0, x1, y0, y1), kind) in enumerate(panels, start=1):
    sfx = "" if k == 1 else str(k)
    lg = "legend" if k == 1 else f"legend{k}"
    for i, vals in enumerate(data):
        fig.add_trace(go.Scatter(
            x=list(range(len(vals))), y=vals, mode="lines",
            name=series_names[i], line=dict(color=COLORS[i], width=0.9),
            opacity=0.85, xaxis="x" + sfx, yaxis="y" + sfx, legend=lg,
        ))
    if kind == "acc":
        yr, tv, tt = [-20, 40], acc_ticks, acc_ticktext
    else:
        yr, tv, tt = [-4, 4], gyro_ticks, gyro_ticktext
    common = dict(
        showgrid=True, gridcolor="#b8b8b8", gridwidth=1,
        showline=True, linecolor="#333", linewidth=1, mirror=True,
        ticks="outside", ticklen=4, tickcolor="#333",
        tickfont=TICKFONT, zeroline=False, fixedrange=True,
    )
    layout["xaxis" + sfx] = dict(
        domain=[px(x0), px(x1)], anchor="y" + sfx, range=XR,
        tickmode="array", tickvals=tpos, ticktext=tlab, **common,
    )
    layout["yaxis" + sfx] = dict(
        domain=[py(y1), py(y0)], anchor="x" + sfx, range=yr,
        tickmode="array", tickvals=tv, ticktext=tt, **common,
    )
    layout[lg] = dict(
        x=px(x1 - 6), y=py(y0 + 5), xanchor="right", yanchor="top",
        bgcolor="rgba(255,255,255,0.8)", bordercolor="#cccccc", borderwidth=1,
        font=dict(family="DejaVu Sans", size=13, color="#222"),
        itemwidth=30, tracegroupgap=0,
    )

fig.update_layout(**layout)

CJK = "Noto Sans CJK JP"
annos = [
    dict(text="加速度", x=422, y=25, textangle=0),
    dict(text="ジャイロ", x=1133, y=25, textangle=0),
    dict(text="徒歩", x=22, y=142, textangle=-90),
    dict(text="車椅子", x=22, y=345, textangle=-90),
    dict(text="ベビーカー", x=22, y=532, textangle=-90),
]
for a in annos:
    fig.add_annotation(
        text=a["text"], x=px(a["x"]), y=py(a["y"]), xref="paper", yref="paper",
        showarrow=False, textangle=a["textangle"], xanchor="center", yanchor="middle",
        font=dict(family=CJK, size=20, color="#000"),
    )

fig.add_shape(type="line", xref="paper", yref="paper",
              x0=px(33), x1=px(33), y0=py(8), y1=py(629),
              line=dict(color="#000", width=1.5))
fig.add_shape(type="line", xref="paper", yref="paper",
              x0=px(10), x1=px(1445), y0=py(41.7), y1=py(41.7),
              line=dict(color="#000", width=2))

fig.write_html("out.html")
